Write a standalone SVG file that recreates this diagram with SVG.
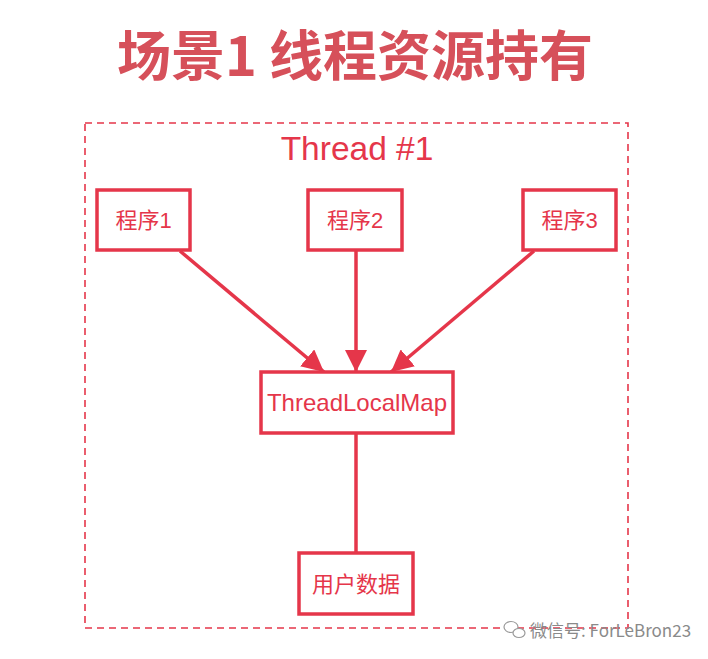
<svg xmlns="http://www.w3.org/2000/svg" width="708" height="659" viewBox="0 0 708 659">
<defs>
<style>
.box{fill:#fff;stroke:#e5364a;stroke-width:3.5}
.lbl{font-family:"Liberation Sans","Noto Sans CJK SC",sans-serif;font-size:22px;fill:#e5364a;text-anchor:middle}
.edge{stroke:#e5364a;stroke-width:3.5;fill:none}
</style>
<marker id="ah2" viewBox="0 0 20 20" refX="20" refY="10" markerWidth="22" markerHeight="22" markerUnits="userSpaceOnUse" orient="auto">
<path d="M0,0 L20,10 L0,20 z" fill="#e5364a"/>
</marker>
</defs>
<rect width="708" height="659" fill="#fff"/>
<text x="355" y="76" text-anchor="middle" font-family="Noto Sans CJK SC, sans-serif" font-weight="bold" font-size="54" fill="#d6505a">场景1 线程资源持有</text>
<g id="thread">
<rect x="85" y="123" width="543" height="505" fill="none" stroke="#e5364a" stroke-width="1.6" stroke-dasharray="7,5"/>
<text x="357" y="160" text-anchor="middle" font-family="Liberation Sans, sans-serif" font-size="33.5" fill="#e5364a">Thread #1</text>
</g>
<g id="connectors">
<line class="edge" x1="180" y1="251" x2="324" y2="372" marker-end="url(#ah2)"/>
<line class="edge" x1="356" y1="251" x2="356" y2="372" marker-end="url(#ah2)"/>
<line class="edge" x1="534" y1="251" x2="391" y2="372" marker-end="url(#ah2)"/>
<line class="edge" x1="356" y1="433" x2="356" y2="553"/>
</g>
<g id="p1"><rect class="box" x="97" y="190" width="93" height="60"/><text class="lbl" x="143.5" y="228">程序1</text></g>
<g id="p2"><rect class="box" x="308" y="190" width="94" height="60"/><text class="lbl" x="355" y="228">程序2</text></g>
<g id="p3"><rect class="box" x="523" y="190" width="93" height="60"/><text class="lbl" x="569.5" y="228">程序3</text></g>
<g id="tlm"><rect class="box" x="261" y="372" width="192" height="61"/><text class="lbl" x="357" y="411" style="font-size:24px">ThreadLocalMap</text></g>
<g id="data"><rect class="box" x="299" y="553" width="114" height="61"/><text class="lbl" x="356" y="592">用户数据</text></g>
<g id="watermark">
<ellipse cx="511" cy="627" rx="7" ry="5.5" fill="#fff" stroke="#9a9a9a" stroke-width="1.2"/>
<ellipse cx="519" cy="633" rx="6" ry="4.5" fill="#fff" stroke="#9a9a9a" stroke-width="1.2"/>
<text x="530" y="637" font-family="Noto Sans CJK SC, sans-serif" font-size="17" fill="#8a8a8a">微信号: ForLeBron23</text>
</g>
</svg>
